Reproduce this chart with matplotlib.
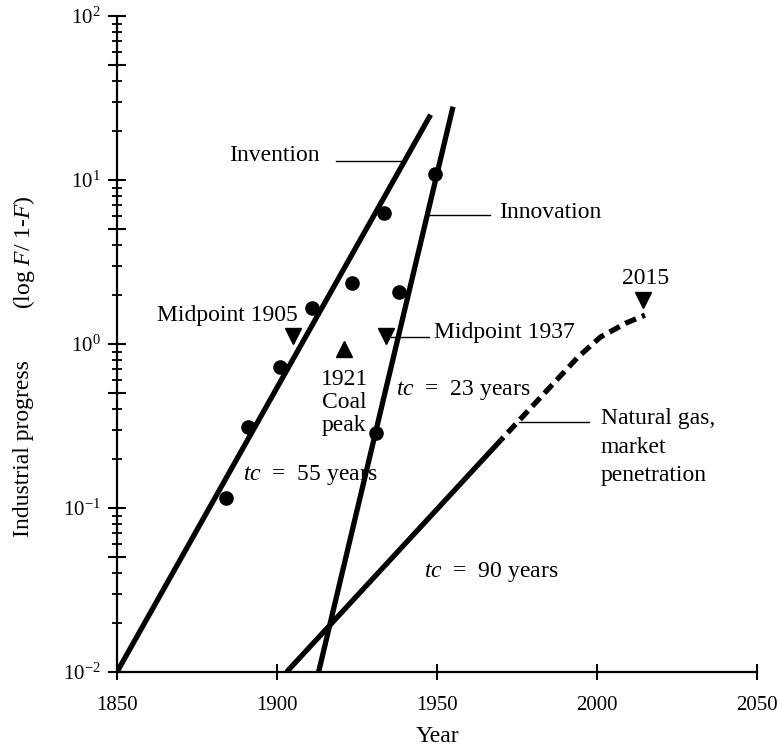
import matplotlib
matplotlib.use("Agg")
import matplotlib.pyplot as plt
from matplotlib.ticker import LogLocator, NullFormatter

plt.rcParams['font.family'] = ['Liberation Serif', 'DejaVu Serif']
plt.rcParams['mathtext.fontset'] = 'custom'
plt.rcParams['mathtext.rm'] = 'Liberation Serif'
plt.rcParams['mathtext.it'] = 'Liberation Serif:italic'

# fitted trend lines (year, log F/1-F)
invention_years = [1850, 1948]
invention_vals = [0.01, 25]
innovation_years = [1913, 1955]
innovation_vals = [0.01, 28]
gas_years = [1903, 1970]
gas_vals = [0.01, 0.26]
gas_proj_years = [1970, 1994, 2001, 2009, 2015]
gas_proj_vals = [0.26, 0.83, 1.10, 1.34, 1.50]

# observed points
invention_pt_years = [1884, 1891, 1901, 1911, 1923.5, 1933.5]
invention_pt_vals = [0.115, 0.31, 0.72, 1.66, 2.35, 6.3]
innovation_pt_years = [1931, 1938, 1949.5]
innovation_pt_vals = [0.286, 2.07, 10.9]

# markers: midpoints / 2015 (down), coal peak (up)
down_years = [1905, 1934, 2014.5]
down_vals = [1.12, 1.12, 1.85]
up_years = [1921]
up_vals = [0.93]

xticks = [1850, 1900, 1950, 2000, 2050]
yticks = [1e-2, 5e-2, 1e-1, 5e-1, 1e0, 5e0, 1e1, 5e1, 1e2]
ylabels = [r'$\mathregular{10^{-2}}$', '', r'$\mathregular{10^{-1}}$', '',
           r'$\mathregular{10^{0}}$', '', r'$\mathregular{10^{1}}$', '',
           r'$\mathregular{10^{2}}$']

fig = plt.figure(figsize=(7.79, 7.53), dpi=100)
ax = fig.add_axes([117 / 779, 81 / 753, 640 / 779, 656 / 753])
ax.set_yscale('log')
ax.set_xlim(1850, 2050)
ax.set_ylim(1e-2, 1e2)

lw = 3.8
ax.plot(invention_years, invention_vals, color='black', lw=lw, solid_capstyle='butt')
ax.plot(innovation_years, innovation_vals, color='black', lw=lw, solid_capstyle='butt')
ax.plot(gas_years, gas_vals, color='black', lw=lw, solid_capstyle='butt')
ax.plot(gas_proj_years, gas_proj_vals, color='black', lw=lw, linestyle=(1.5, (2.2, 1.2)))

ax.plot(invention_pt_years, invention_pt_vals, 'o', color='black', ms=9.5)
ax.plot(innovation_pt_years, innovation_pt_vals, 'o', color='black', ms=9.5)
ax.plot(down_years, down_vals, 'v', color='black', ms=11.5)
ax.plot(up_years, up_vals, '^', color='black', ms=11.5)

fs = 17
# labels with leader lines
ax.text(1913.2, 14.2, 'Invention', fontsize=fs, ha='right', va='center')
ax.plot([1918.5, 1939.1], [13.1, 13.1], color='black', lw=1)
ax.plot([1947.5, 1966.5], [6.12, 6.12], color='black', lw=1)
ax.text(1969.3, 6.3, 'Innovation', fontsize=fs, ha='left', va='center')
ax.text(1906.4, 1.50, 'Midpoint 1905', fontsize=fs, ha='right', va='center')
ax.plot([1935.7, 1947.5], [1.10, 1.10], color='black', lw=1)
ax.text(1949.1, 1.17, 'Midpoint 1937', fontsize=fs, ha='left', va='center')
ax.text(1921, 0.44, '1921\nCoal\npeak', fontsize=fs, ha='center', va='center',
        linespacing=1.15)
ax.text(1937.2, 0.525, r'$\it{tc}$  =  23 years', fontsize=fs, ha='left', va='center')
ax.text(1889.3, 0.159, r'$\it{tc}$  =  55 years', fontsize=fs, ha='left', va='center')
ax.text(1946, 0.0407, r'$\it{tc}$  =  90 years', fontsize=fs, ha='left', va='center')
ax.plot([1975.5, 1997.4], [0.334, 0.334], color='black', lw=1)
ax.text(2001.1, 0.235, 'Natural gas,\nmarket\npenetration', fontsize=fs,
        ha='left', va='center', linespacing=1.45)
ax.text(2015.1, 2.52, '2015', fontsize=fs, ha='center', va='center')

# axes styling
for s in ['top', 'right']:
    ax.spines[s].set_visible(False)
for s in ['left', 'bottom']:
    ax.spines[s].set_linewidth(1.6)

ax.set_xticks(xticks)
ax.set_xticklabels([str(x) for x in xticks], fontsize=15)
ax.tick_params(axis='x', direction='inout', length=12, width=1.5, pad=11)

ax.set_yticks(yticks)
ax.set_yticklabels(ylabels, fontsize=15)
ax.yaxis.set_minor_locator(LogLocator(base=10, subs=[2, 3, 4, 6, 7, 8, 9]))
ax.yaxis.set_minor_formatter(NullFormatter())
ax.tick_params(axis='y', which='major', direction='inout', length=13, width=1.5, pad=5)
ax.tick_params(axis='y', which='minor', direction='inout', length=6.5, width=1.3)

ax.set_xlabel('Year', fontsize=17, labelpad=8)
fig.text(24 / 779, 1 - 449 / 753, 'Industrial progress', fontsize=17,
         rotation=90, ha='center', va='center')
fig.text(24 / 779, 1 - 252 / 753, r'(log $\it{F}$/ 1-$\it{F}$)', fontsize=17,
         rotation=90, ha='center', va='center')

fig.savefig('out.png', dpi=100)
